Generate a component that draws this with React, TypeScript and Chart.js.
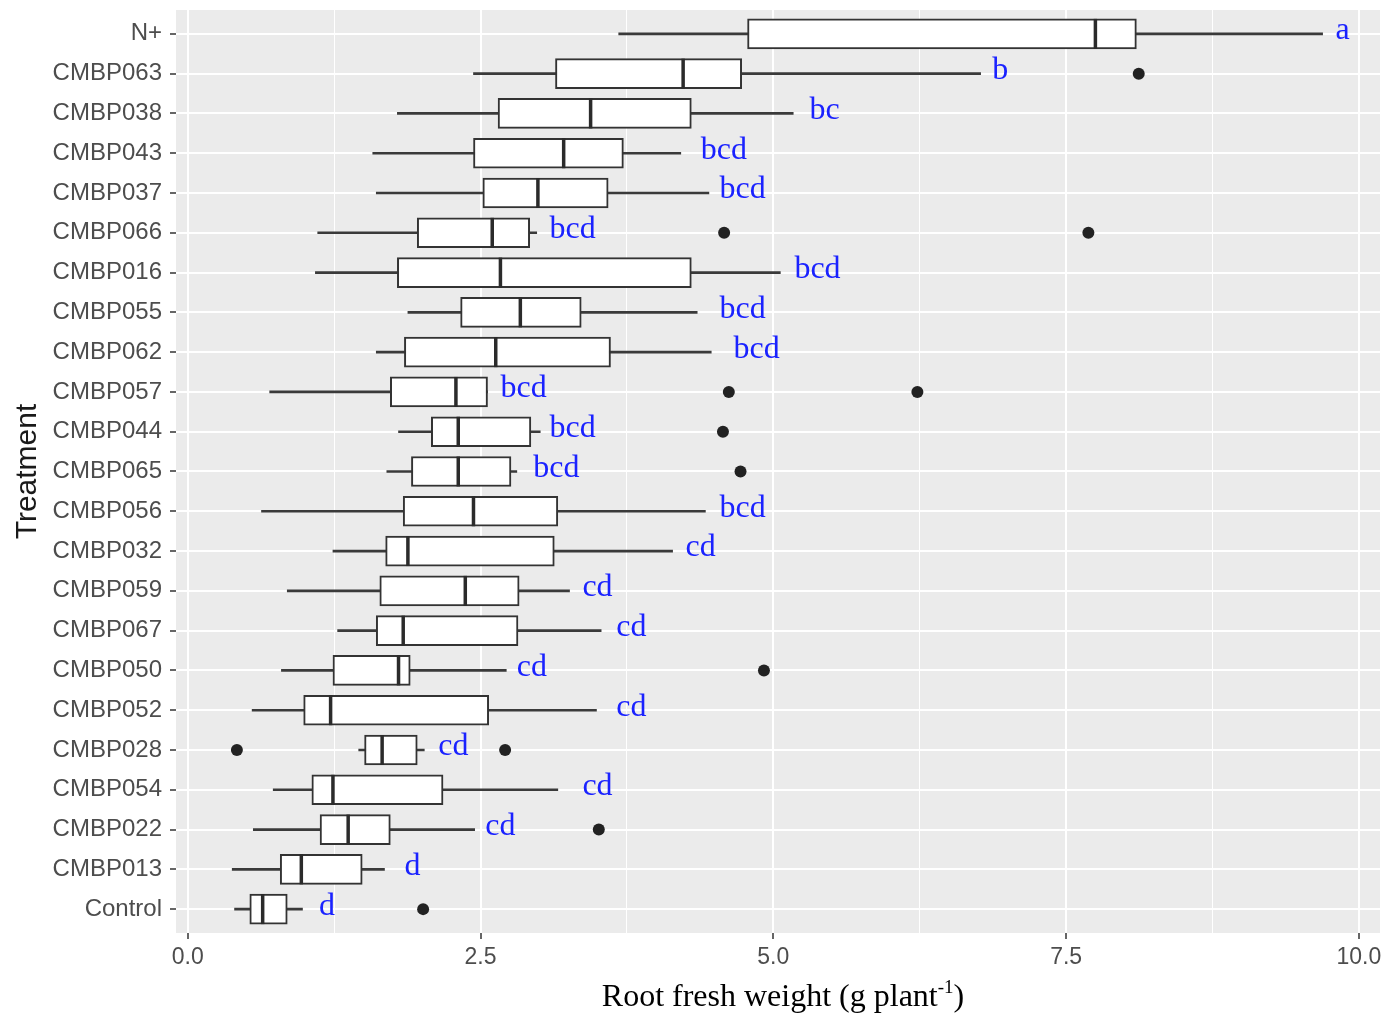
import { useEffect, useRef } from 'react';
import { Chart, registerables } from 'chart.js';

Chart.register(...registerables);

// Treatments, top to bottom
const TREATMENTS = [
  'N+', 'CMBP063', 'CMBP038', 'CMBP043', 'CMBP037', 'CMBP066', 'CMBP016', 'CMBP055',
  'CMBP062', 'CMBP057', 'CMBP044', 'CMBP065', 'CMBP056', 'CMBP032', 'CMBP059', 'CMBP067',
  'CMBP050', 'CMBP052', 'CMBP028', 'CMBP054', 'CMBP022', 'CMBP013', 'Control',
];

// Box plot statistics of root fresh weight (g plant-1)
const WHISKER_LOW = [3.68, 2.44, 1.79, 1.58, 1.61, 1.11, 1.09, 1.88, 1.61, 0.70, 1.80, 1.70, 0.63, 1.24, 0.85, 1.28, 0.80, 0.55, 1.46, 0.73, 0.56, 0.38, 0.40];
const Q1 = [4.78, 3.14, 2.65, 2.44, 2.52, 1.96, 1.79, 2.33, 1.85, 1.73, 2.08, 1.91, 1.84, 1.69, 1.64, 1.61, 1.24, 0.99, 1.51, 1.06, 1.13, 0.79, 0.53];
const MEDIAN = [7.75, 4.23, 3.44, 3.21, 2.99, 2.60, 2.67, 2.84, 2.63, 2.29, 2.31, 2.31, 2.44, 1.88, 2.37, 1.84, 1.80, 1.22, 1.66, 1.24, 1.37, 0.97, 0.64];
const Q3 = [8.10, 4.73, 4.30, 3.72, 3.59, 2.92, 4.30, 3.36, 3.61, 2.56, 2.93, 2.76, 3.16, 3.13, 2.83, 2.82, 1.90, 2.57, 1.96, 2.18, 1.73, 1.49, 0.85];
const WHISKER_HIGH = [9.69, 6.77, 5.17, 4.21, 4.45, 2.98, 5.06, 4.35, 4.47, 2.56, 3.01, 2.81, 4.42, 4.14, 3.26, 3.53, 2.72, 3.49, 2.02, 3.16, 2.45, 1.68, 0.98];
const OUTLIERS: number[][] = [
  [], [8.12], [], [], [], [4.58, 7.69], [], [], [], [4.62, 6.23], [4.57], [4.72],
  [], [], [], [], [4.92], [], [0.42, 2.71], [], [3.51], [], [2.01],
];

// Significance letters and where each one starts on the x axis
const LETTERS = ['a', 'b', 'bc', 'bcd', 'bcd', 'bcd', 'bcd', 'bcd', 'bcd', 'bcd', 'bcd', 'bcd', 'bcd', 'cd', 'cd', 'cd', 'cd', 'cd', 'cd', 'cd', 'cd', 'd', 'd'];
const LETTER_X = [9.80, 6.87, 5.31, 4.38, 4.54, 3.09, 5.18, 4.54, 4.66, 2.67, 3.09, 2.95, 4.54, 4.25, 3.37, 3.66, 2.81, 3.66, 2.14, 3.37, 2.54, 1.85, 1.12];

const X_GRID = [0, 1.25, 2.5, 3.75, 5, 6.25, 7.5, 8.75, 10];
const X_LABELED = [0, 2.5, 5, 7.5, 10];

const SANS = "'Liberation Sans', Arial, sans-serif";
const SERIF = "'Liberation Serif', 'Times New Roman', serif";

const panelBackground = {
  id: 'panelBackground',
  beforeDraw(chart: any) {
    const { ctx, chartArea: a, width, height } = chart;
    ctx.save();
    ctx.fillStyle = '#ffffff';
    ctx.fillRect(0, 0, width, height);
    ctx.fillStyle = '#ebebeb';
    ctx.fillRect(a.left, a.top, a.right - a.left, a.bottom - a.top);
    ctx.restore();
  },
};

const letterLabels = {
  id: 'letterLabels',
  afterDatasetsDraw(chart: any) {
    const { ctx, scales } = chart;
    ctx.save();
    ctx.fillStyle = '#1a22ff';
    ctx.font = `32px ${SERIF}`;
    ctx.textAlign = 'left';
    ctx.textBaseline = 'middle';
    LETTERS.forEach((txt, i) => {
      ctx.fillText(txt, scales.x.getPixelForValue(LETTER_X[i]), scales.y.getPixelForValue(i) - 3);
    });
    ctx.restore();
  },
};

const xAxisTitle = {
  id: 'xAxisTitle',
  afterDraw(chart: any) {
    const { ctx, chartArea: a } = chart;
    const main = 'Root fresh weight (g plant';
    const sup = '-1';
    const close = ')';
    ctx.save();
    ctx.fillStyle = '#000000';
    ctx.textBaseline = 'alphabetic';
    ctx.textAlign = 'left';
    ctx.font = `32px ${SERIF}`;
    const w1 = ctx.measureText(main).width;
    const w3 = ctx.measureText(close).width;
    ctx.font = `19px ${SERIF}`;
    const w2 = ctx.measureText(sup).width;
    const total = w1 + w2 + w3;
    let x = (a.left + a.right) / 2 + 5 - total / 2;
    const y = 1006;
    ctx.font = `32px ${SERIF}`;
    ctx.fillText(main, x, y);
    x += w1;
    ctx.font = `19px ${SERIF}`;
    ctx.fillText(sup, x, y - 13);
    x += w2;
    ctx.font = `32px ${SERIF}`;
    ctx.fillText(close, x, y);
    ctx.restore();
  },
};

export default function App() {
  const ref = useRef<HTMLCanvasElement>(null);

  useEffect(() => {
    if (!ref.current) return;
    const idx = TREATMENTS.map((_, i) => i);
    const outlierPoints = OUTLIERS.flatMap((vals, i) => vals.map((v) => ({ x: v, y: i })));

    const chart = new Chart(ref.current, {
      type: 'bar',
      data: {
        datasets: [
          {
            type: 'scatter',
            label: 'median',
            data: idx.map((i) => ({ x: MEDIAN[i], y: i })),
            pointStyle: 'line',
            rotation: 90,
            pointRadius: 15,
            pointHoverRadius: 15,
            borderWidth: 3.5,
            borderColor: '#2b2b2b',
            order: 0,
          } as any,
          {
            type: 'scatter',
            label: 'outliers',
            data: outlierPoints,
            pointStyle: 'circle',
            pointRadius: 6,
            pointHoverRadius: 6,
            backgroundColor: '#222222',
            borderWidth: 0,
            order: 1,
          } as any,
          {
            type: 'bar',
            label: 'box',
            indexAxis: 'y',
            data: idx.map((i) => ({ x: [Q1[i], Q3[i]], y: i })),
            backgroundColor: '#ffffff',
            borderColor: '#333333',
            borderWidth: 2,
            borderSkipped: false,
            barThickness: 30,
            grouped: false,
            order: 2,
          } as any,
          {
            type: 'bar',
            label: 'whisker',
            indexAxis: 'y',
            data: idx.map((i) => ({ x: [WHISKER_LOW[i], WHISKER_HIGH[i]], y: i })),
            backgroundColor: '#3a3a3a',
            borderWidth: 0,
            barThickness: 2,
            grouped: false,
            order: 3,
          } as any,
        ],
      },
      options: {
        responsive: false,
        animation: false,
        devicePixelRatio: 1,
        layout: { autoPadding: false, padding: { top: 10, right: 10, left: 0, bottom: 0 } },
        plugins: { legend: { display: false }, tooltip: { enabled: false } },
        scales: {
          x: {
            type: 'linear',
            min: -0.1,
            max: 10.18,
            offset: false,
            afterBuildTicks: (s: any) => {
              s.ticks = X_GRID.map((v) => ({ value: v }));
            },
            afterFit: (s: any) => {
              s.height = 85;
              s.paddingLeft = 0;
              s.paddingRight = 0;
            },
            border: { display: false },
            grid: {
              offset: false,
              color: '#ffffff',
              lineWidth: (c: any) => (X_LABELED.includes(c.tick?.value) ? 2 : 1),
              tickColor: (c: any) => (X_LABELED.includes(c.tick?.value) ? '#333333' : 'rgba(0,0,0,0)'),
              tickLength: 6,
              tickWidth: 1.5,
            },
            ticks: {
              autoSkip: false,
              maxRotation: 0,
              padding: 5,
              color: '#4d4d4d',
              font: { family: SANS, size: 23 },
              callback: (v: any) => (X_LABELED.includes(Number(v)) ? Number(v).toFixed(1) : ''),
            },
          },
          y: {
            type: 'linear',
            reverse: true,
            offset: false,
            min: -0.6,
            max: TREATMENTS.length - 1 + 0.6,
            afterBuildTicks: (s: any) => {
              s.ticks = TREATMENTS.map((_, i) => ({ value: i }));
            },
            afterFit: (s: any) => {
              s.width = 176;
              s.paddingTop = 0;
              s.paddingBottom = 0;
            },
            border: { display: false },
            grid: {
              offset: false,
              color: '#ffffff',
              lineWidth: 2,
              tickColor: '#333333',
              tickLength: 6,
              tickWidth: 1.5,
            },
            ticks: {
              autoSkip: false,
              padding: 8,
              color: '#4d4d4d',
              font: { family: SANS, size: 24, lineHeight: 0.1 },
              callback: (v: any) => TREATMENTS[Number(v)] ?? '',
            },
            title: {
              display: true,
              text: 'Treatment',
              color: '#1a1a1a',
              font: { family: SANS, size: 30 },
              padding: { top: 10, bottom: 0 },
            },
          },
        },
      } as any,
      plugins: [panelBackground, letterLabels, xAxisTitle],
    });
    return () => chart.destroy();
  }, []);

  return (
    <div style={{ position: 'absolute', left: 0, top: 0, width: 1390, height: 1018, background: '#fff' }}>
      <canvas ref={ref} width={1390} height={1018} />
    </div>
  );
}
